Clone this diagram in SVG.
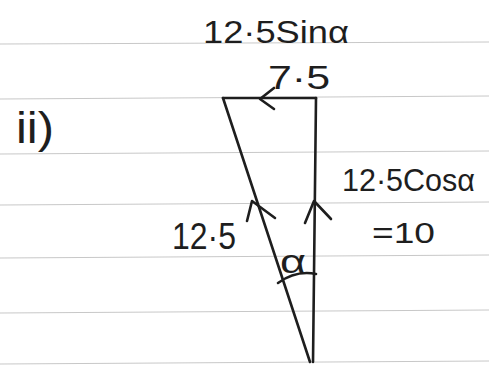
<svg xmlns="http://www.w3.org/2000/svg" width="489" height="371" viewBox="0 0 489 371">
<style>
.rule{stroke:#c8c8c8;stroke-width:1.2;fill:none}
.ink{stroke:#1e1e1e;stroke-width:2.6;fill:none;stroke-linecap:round;stroke-linejoin:round}
.t{font-family:"Liberation Sans",Arial,sans-serif;fill:#1e1e1e}
</style>
<rect width="489" height="371" fill="#ffffff"/>
<g id="paper">
<line class="rule" x1="0" y1="44" x2="489" y2="42"/>
<line class="rule" x1="0" y1="99" x2="489" y2="96"/>
<line class="rule" x1="0" y1="154" x2="489" y2="151"/>
<line class="rule" x1="0" y1="205" x2="489" y2="202"/>
<line class="rule" x1="0" y1="258" x2="489" y2="255"/>
<line class="rule" x1="0" y1="313" x2="489" y2="310"/>
<line class="rule" x1="0" y1="364" x2="489" y2="361"/>
</g>
<g id="label-ii"><text class="t" x="16" y="143" font-size="44" textLength="38" lengthAdjust="spacingAndGlyphs">ii)</text></g>
<g id="connectors">
<line class="ink" x1="223" y1="98" x2="316" y2="98"/>
<line class="ink" x1="316" y1="98" x2="313" y2="362"/>
<line class="ink" x1="223" y1="98" x2="310" y2="362" stroke-width="2.2"/>
<polyline class="ink" points="274,88 260,99 274,109"/>
<polyline class="ink" points="247,221 252,201 275,218" stroke-width="3"/>
<polyline class="ink" points="305,223 314,201 331,219" stroke-width="3"/>
<path class="ink" d="M278,283 Q296,270 316,274"/>
</g>
<g id="labels">
<text class="t" x="203" y="43" font-size="32" textLength="146" lengthAdjust="spacingAndGlyphs">12·5Sinα</text>
<text class="t" x="268" y="89" font-size="34" textLength="62" lengthAdjust="spacingAndGlyphs">7·5</text>
<text class="t" x="342" y="191" font-size="32" textLength="133" lengthAdjust="spacingAndGlyphs">12·5Cosα</text>
<text class="t" x="372" y="243" font-size="29" textLength="63" lengthAdjust="spacingAndGlyphs">=10</text>
<text class="t" x="172" y="249" font-size="36" textLength="64" lengthAdjust="spacingAndGlyphs">12·5</text>
<text class="t" x="280" y="273" font-size="34" textLength="26" lengthAdjust="spacingAndGlyphs">α</text>
</g>
</svg>
